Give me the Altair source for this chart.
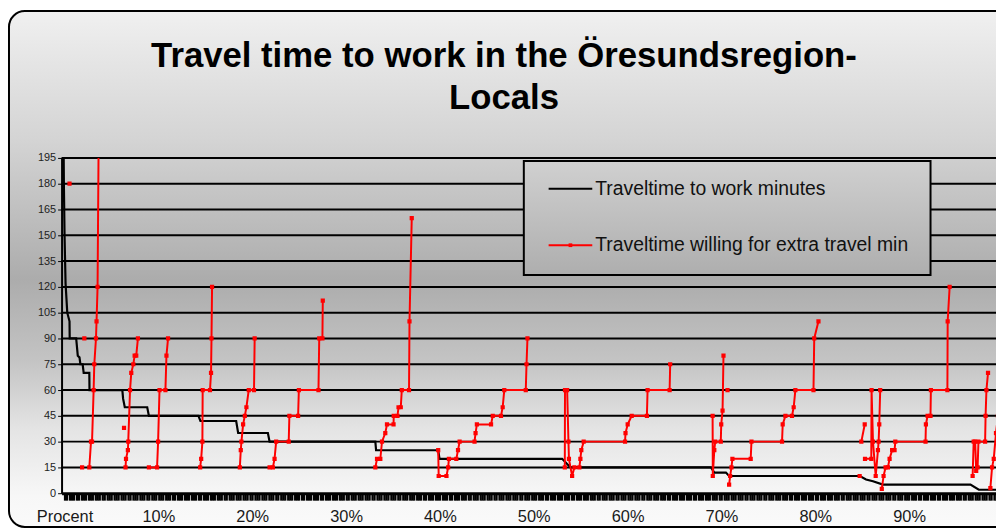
import altair as alt
import pandas as pd
import numpy as np

W, H = 942, 338
X_DOMAIN = [-0.317, 99.26]

# ---------------- data ----------------
y_ticks = list(range(0, 196, 15))
grid_levels = list(range(15, 196, 15))
x_ticks = [round(v, 2) for v in np.arange(0, 99.26, 0.25)]

black_x = [-0.18, -0.07, 0.0, 0.11, 0.29, 0.53, 0.55, 1.24, 1.41, 1.59, 1.69, 1.93, 2.04, 2.64, 2.66,
           6.16, 6.24, 6.42, 8.81, 8.99, 14.27, 14.48, 18.29, 18.5, 21.67, 21.85, 33.12, 33.2, 39.82,
           39.96, 53.03, 53.91, 68.89, 69.24, 70.48, 70.82, 84.75, 85.41, 86.15, 87.21, 96.54, 97.43, 99.3]
black_y = [260, 180, 150, 122, 105, 100, 90, 90, 80, 79, 75, 75, 70, 70, 60,
           60, 55, 50, 50, 45, 45, 42, 42, 35, 35, 30, 30, 25, 25,
           20, 20, 15, 15, 12, 12, 10, 10, 8, 7, 5, 5, 2, 2]

red_A_x = [2.64, 2.82, 2.93, 3.10, 3.17, 3.35, 3.41, 3.52, 3.68]
red_A_y = [15, 30, 30, 60, 75, 90, 100, 120, 240]
red_B_x = [6.50, 6.55, 6.75, 6.79, 6.98, 7.11, 7.33, 7.47, 7.64, 7.82]
red_B_y = [15, 20, 25, 30, 60, 70, 75, 80, 80, 90]
red_C_x = [8.99, 9.86, 9.97, 10.12, 10.75, 10.86, 11.03]
red_C_y = [15, 15, 30, 60, 60, 80, 90]
red_D_x = [14.45, 14.56, 14.69, 14.72, 15.50, 15.61, 15.66, 15.72]
red_D_y = [15, 20, 30, 60, 60, 70, 90, 120]
red_E_x = [18.68, 18.78, 18.85, 19.03, 19.21, 19.38, 19.63, 20.19, 20.26]
red_E_y = [15, 25, 30, 40, 45, 50, 60, 60, 90]
red_F_x = [21.85, 22.20, 22.38, 22.55, 23.89, 23.96, 24.89, 24.97, 27.06, 27.14, 27.48, 27.52]
red_F_y = [15, 15, 20, 30, 30, 45, 45, 60, 60, 90, 90, 112]
red_G_x = [33.12, 33.30, 33.65, 33.83, 34.18, 34.36, 35.06, 35.08, 35.48, 35.59, 35.83, 35.94, 36.71, 36.76, 37.00]
red_G_y = [15, 20, 20, 30, 35, 40, 40, 45, 45, 50, 50, 60, 60, 100, 160]
red_H_x = [39.82, 39.87, 40.70, 40.88, 40.96, 41.75, 41.93, 42.10, 43.69, 43.80, 43.94, 45.45, 45.63,
           46.51, 46.69, 46.86, 49.15, 49.23, 49.33]
red_H_y = [25, 10, 10, 15, 20, 20, 25, 30, 30, 35, 40, 40, 45, 45, 50, 60, 60, 75, 90]
red_I_x = [53.31, 53.33, 53.56, 53.70, 53.75, 54.09, 54.33, 54.86, 54.97, 55.07, 55.32, 59.73, 59.78,
           60.01, 60.44, 62.06, 62.13, 64.48, 64.54]
red_I_y = [15, 60, 60, 30, 20, 10, 15, 15, 20, 25, 30, 30, 35, 40, 45, 45, 60, 60, 75]
red_J1_x = [69.06, 69.08, 69.24, 69.34, 69.93, 69.98, 70.12, 70.22]
red_J1_y = [45, 10, 25, 30, 30, 40, 48, 80]
red_J2_x = [70.82, 70.93, 71.07, 71.17, 73.12, 73.20, 76.46, 76.53, 76.82, 77.52, 77.70, 77.88, 79.81, 79.89, 80.34]
red_J2_y = [5, 10, 15, 20, 20, 30, 30, 40, 45, 45, 50, 60, 60, 90, 100]
red_K1_x = [84.91, 85.27]
red_K1_y = [30, 40]
red_K2_x = [85.30, 85.97, 86.00, 86.15, 86.44, 86.68, 86.75, 86.82, 86.92]
red_K2_y = [20, 20, 60, 30, 10, 25, 30, 40, 60]
red_K3_x = [87.09, 87.28, 87.49, 87.74, 87.92, 88.19, 88.45, 88.53, 91.75, 91.79, 91.97, 92.28, 92.32,
            94.08, 94.11, 94.32]
red_K3_y = [2.5, 10, 15, 15, 20, 25, 25, 30, 30, 40, 45, 45, 60, 60, 100, 120]
red_L1_x = [96.77, 96.88, 97.04, 97.15, 97.30, 97.39, 98.10, 98.15, 98.24, 98.41]
red_L1_y = [10, 30, 30, 13, 15, 30, 30, 45, 60, 70]
red_L2_x = [98.66, 98.84, 99.02, 99.26, 99.47]
red_L2_y = [3, 15, 20, 35, 45]

iso_x = [0.53, 1.87, 2.11, 6.34, 70.65, 84.73]
iso_y = [180, 15, 90, 38, 60, 10]

title_lines = ["Travel time to work in the Öresundsregion-", "Locals"]
legend_labels = ["Traveltime to work minutes", "Traveltime willing for extra travel min"]

# ---------------- tables ----------------
black_df = pd.DataFrame({"x": black_x, "y": black_y, "o": range(len(black_x))})

segs = [("A", red_A_x, red_A_y), ("B", red_B_x, red_B_y), ("C", red_C_x, red_C_y),
        ("D", red_D_x, red_D_y), ("E", red_E_x, red_E_y), ("F", red_F_x, red_F_y),
        ("G", red_G_x, red_G_y), ("H", red_H_x, red_H_y), ("I", red_I_x, red_I_y),
        ("J1", red_J1_x, red_J1_y), ("J2", red_J2_x, red_J2_y), ("K1", red_K1_x, red_K1_y),
        ("K2", red_K2_x, red_K2_y), ("K3", red_K3_x, red_K3_y), ("L1", red_L1_x, red_L1_y),
        ("L2", red_L2_x, red_L2_y)]
rows = []
for name, xs_, ys_ in segs:
    for i, (a, b) in enumerate(zip(xs_, ys_)):
        rows.append({"seg": name, "x": a, "y": b, "o": i})
red_df = pd.DataFrame(rows)
iso_df = pd.DataFrame({"x": iso_x, "y": iso_y})
grid_df = pd.DataFrame({"g": grid_levels})
one = pd.DataFrame({"a": [0]})

# ---------------- scales / axes ----------------
xs = alt.Scale(domain=X_DOMAIN, nice=False, zero=False)
ys = alt.Scale(domain=[0, 195], nice=False, zero=True)
FONT = "Liberation Sans"

x_axis = alt.Axis(values=x_ticks,
                  labelExpr="datum.value == 0 ? 'Procent' : (datum.value % 10 == 0 ? datum.value + '%' : '')",
                  domainColor="black", domainWidth=3, tickColor="black", tickSize=7, tickWidth=2.3,
                  labelFontSize=16.5, labelFont=FONT, labelColor="#1a1a1a", labelPadding=9,
                  labelOverlap=False, labelFlush=False, labelBound=False, grid=False, title=None, zindex=1)
y_axis = alt.Axis(values=y_ticks, domainColor="black", domainWidth=2, tickColor="black", tickSize=4,
                  tickWidth=1, labelFontSize=11, labelFont=FONT, labelColor="#222222", labelPadding=2,
                  grid=False, title=None, zindex=1)

X = alt.X("x:Q", scale=xs, axis=x_axis)
Y = alt.Y("y:Q", scale=ys, axis=y_axis)

bg_grad = alt.LinearGradient(gradient="linear", x1=0, y1=0, x2=0, y2=1, stops=[
    alt.GradientStop(offset=0, color="#f0f0f0"),
    alt.GradientStop(offset=0.25, color="#d4d4d4"),
    alt.GradientStop(offset=0.52, color="#acacac"),
    alt.GradientStop(offset=0.68, color="#c4c4c4"),
    alt.GradientStop(offset=0.81, color="#e4e4e4"),
    alt.GradientStop(offset=0.94, color="#f7f7f7"),
    alt.GradientStop(offset=1, color="#fafafa")])
leg_grad = alt.LinearGradient(gradient="linear", x1=0, y1=0, x2=0, y2=1, stops=[
    alt.GradientStop(offset=0, color="#d0d0d0"),
    alt.GradientStop(offset=1, color="#aeaeae")])

# ---------------- layers ----------------
bg = alt.Chart(one).mark_rect(fill=bg_grad, stroke="black", strokeWidth=2, cornerRadius=16).encode(
    x=alt.value(-53), x2=alt.value(990), y=alt.value(-148), y2=alt.value(H + 34))

grid = alt.Chart(grid_df).mark_rule(color="black", strokeWidth=2).encode(
    y=alt.Y("g:Q", scale=ys, axis=y_axis))

black = alt.Chart(black_df).mark_line(color="black", strokeWidth=2.2, clip=True).encode(
    x=X, y=Y, order="o:Q")

red_lines = alt.Chart(red_df).mark_line(color="#ff0000", strokeWidth=2, clip=True).encode(
    x=X, y=Y, detail="seg:N", order="o:Q")
red_pts = alt.Chart(red_df).mark_square(color="#ff0000", size=18, opacity=1, clip=True).encode(x=X, y=Y)
iso = alt.Chart(iso_df).mark_square(color="#ff0000", size=18, opacity=1, clip=True).encode(x=X, y=Y)

leg_box = alt.Chart(one).mark_rect(fill=leg_grad, stroke="black", strokeWidth=2).encode(
    x=alt.value(466), x2=alt.value(876), y=alt.value(3), y2=alt.value(118))
leg_r1 = alt.Chart(one).mark_rule(color="black", strokeWidth=2).encode(
    x=alt.value(491), x2=alt.value(535), y=alt.value(31))
leg_r2 = alt.Chart(one).mark_rule(color="#ff0000", strokeWidth=2).encode(
    x=alt.value(491), x2=alt.value(535), y=alt.value(88))
leg_pt = alt.Chart(one).mark_square(color="#ff0000", size=14, opacity=1).encode(
    x=alt.value(513), y=alt.value(88))
leg_t1 = alt.Chart(one).mark_text(text=legend_labels[0], font=FONT, fontSize=19.5, color="#111111",
                                  align="left", baseline="middle").encode(x=alt.value(538), y=alt.value(31))
leg_t2 = alt.Chart(one).mark_text(text=legend_labels[1], font=FONT, fontSize=19.5, color="#111111",
                                  align="left", baseline="middle").encode(x=alt.value(538), y=alt.value(88))

t1 = alt.Chart(one).mark_text(text=title_lines[0], font=FONT, fontSize=35, fontWeight="bold", color="black",
                              align="center", baseline="alphabetic").encode(x=alt.value(446), y=alt.value(-92))
t2 = alt.Chart(one).mark_text(text=title_lines[1], font=FONT, fontSize=35, fontWeight="bold", color="black",
                              align="center", baseline="alphabetic").encode(x=alt.value(446), y=alt.value(-49))

chart = alt.layer(bg, grid, black, red_lines, red_pts, iso, leg_box, leg_r1, leg_r2, leg_pt,
                  leg_t1, leg_t2, t1, t2).properties(
    width=W, height=H,
    padding={"left": 54, "top": 149, "right": 0, "bottom": 42},
    autosize=alt.AutoSizeParams(type="none"),
).configure_view(stroke="transparent").configure(background="white")

chart.save("out.html", embed_options={"renderer": "svg", "actions": False})
